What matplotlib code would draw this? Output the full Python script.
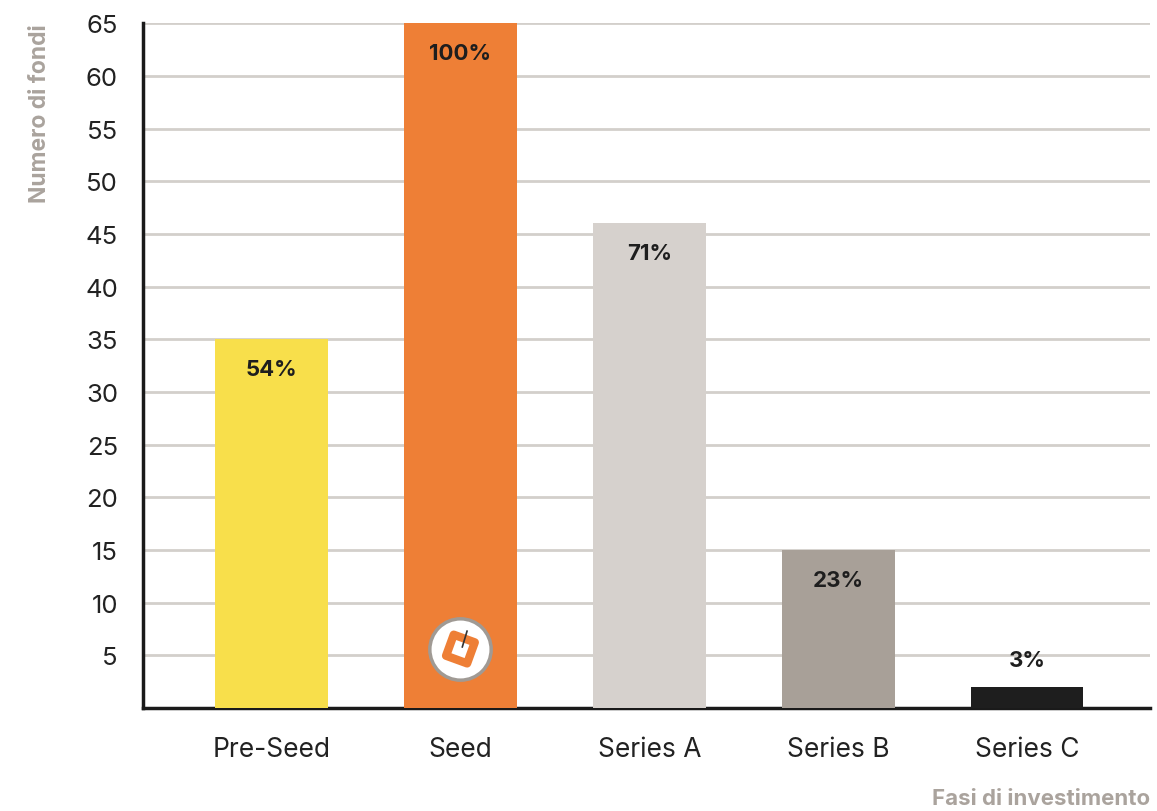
import numpy as np
import matplotlib
matplotlib.use('Agg')
import matplotlib.pyplot as plt

plt.rcParams['font.family'] = ['Inter', 'DejaVu Sans']

# dati
fasi = ['Pre-Seed', 'Seed', 'Series A', 'Series B', 'Series C']
fondi = [35, 65, 46, 15, 2]
percentuali = ['54%', '100%', '71%', '23%', '3%']
colori = ['#f8df4b', '#ee7f36', '#d6d1cd', '#a8a098', '#1e1e1e']
y_ticks = [5, 10, 15, 20, 25, 30, 35, 40, 45, 50, 55, 60, 65]

fig = plt.figure(figsize=(11.57, 8.12), dpi=100)
ax = fig.add_axes([0.1236, 0.1268, 0.8704, 0.8432])

x = np.arange(len(fasi))
ax.bar(x, fondi, width=0.595, color=colori, zorder=3)

# griglia
ax.set_ylim(0, 65)
ax.set_xlim(-0.68, 4.65)
ax.set_yticks(y_ticks)
ax.yaxis.grid(True, color='#d3cfcb', linewidth=2, zorder=0)
ax.set_axisbelow(True)

for s in ['top', 'right']:
    ax.spines[s].set_visible(False)
ax.spines['left'].set_linewidth(2.5)
ax.spines['bottom'].set_linewidth(2.5)
ax.spines['left'].set_color('#1a1a1a')
ax.spines['bottom'].set_color('#1a1a1a')

ax.tick_params(axis='y', length=0, pad=18, labelsize=18.5, labelcolor='#222222')
ax.tick_params(axis='x', length=0, pad=20, labelsize=19, labelcolor='#222222')
ax.set_xticks(x)
ax.set_xticklabels(fasi)

# etichette percentuali
for i, (v, p) in enumerate(zip(fondi, percentuali)):
    if v > 5:
        ax.text(i, v - 2.8, p, ha='center', va='center', fontsize=16,
                fontweight='bold', color='#1e1e1e', zorder=4)
    else:
        ax.text(i, v + 2.6, p, ha='center', va='center', fontsize=16,
                fontweight='bold', color='#1e1e1e', zorder=4)

# logo sulla barra Seed
ax.scatter([1], [5.6], s=1950, marker='o', facecolor='white',
           edgecolor='#a09a94', linewidth=2.5, zorder=5)
ax.scatter([1], [5.6], s=520, marker=(4, 0, 25), facecolor='none',
           edgecolor='#ee7f36', linewidth=6, zorder=6)
ax.plot([1.01, 1.035], [5.8, 7.3], color='#333333', linewidth=1.2, zorder=7)

fig.text(0.035, 0.97, 'Numero di fondi', rotation=90, ha='center', va='top',
         fontsize=16.5, fontweight='bold', color='#aaa39d')
fig.text(0.994, 0.016, 'Fasi di investimento', ha='right', va='center',
         fontsize=16, fontweight='bold', color='#aaa39d')

fig.savefig('out.png', dpi=100)
